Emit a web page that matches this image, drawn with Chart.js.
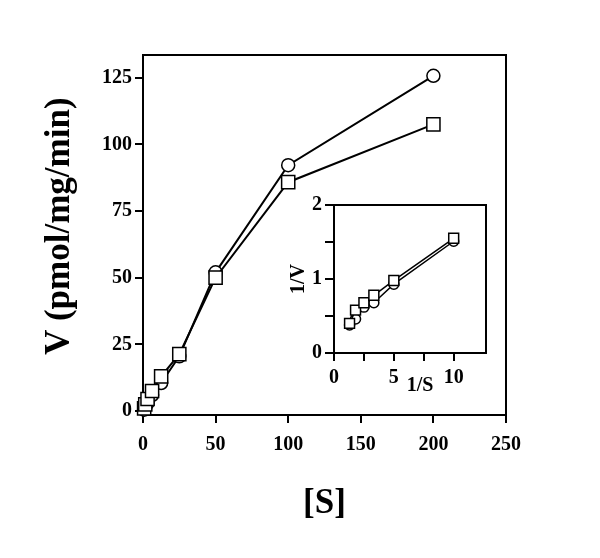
<!DOCTYPE html>
<html>
<head>
<meta charset="utf-8">
<script src="https://cdn.jsdelivr.net/npm/chart.js@4"></script>
<style>
  html, body { margin: 0; padding: 0; background: #fff; }
  #wrap { position: relative; width: 600px; height: 558px; }
  #main { position: absolute; left: 0; top: 0; }
  #inset { position: absolute; left: 270px; top: 190px; }
</style>
</head>
<body>
<div id="wrap">
  <canvas id="main" width="600" height="558"></canvas>
  <canvas id="inset" width="230" height="210"></canvas>
</div>
<script>
// Main plot: V vs [S]
let s_values = [0.78, 1.56, 3.13, 6.25, 12.5, 25, 50, 100, 200];
let v_circles = [0.5, 1.5, 3, 6, 10.5, 20.5, 52, 92.2, 125.7];
let v_squares = [1, 2.5, 4.5, 7.5, 13, 21.3, 50, 85.8, 107.5];
let x_ticks = [0, 50, 100, 150, 200, 250];
let y_ticks = [0, 25, 50, 75, 100, 125];

// Inset: 1/V vs 1/S
let inv_s = [1.3, 1.8, 2.5, 3.33, 5, 10];
let inv_v_circles = [0.38, 0.46, 0.62, 0.68, 0.93, 1.51];
let inv_v_squares = [0.40, 0.58, 0.68, 0.78, 0.98, 1.55];
let inset_x_ticks = [0, 2.5, 5, 7.5, 10];
let inset_y_ticks = [0, 0.5, 1, 1.5, 2];

Chart.defaults.font.family = "'Liberation Serif', 'Times New Roman', serif";
Chart.defaults.font.weight = 'bold';
Chart.defaults.color = '#000';

function toPoints(xs, ys){
  let pts = [];
  for(let i = 0; i < xs.length; i++){
    pts.push({x: xs[i], y: ys[i]});
  }
  return pts;
}

// box around the plot area
const framePlugin = {
  id: 'frame',
  beforeDatasetsDraw(chart){
    const a = chart.chartArea;
    const ctx = chart.ctx;
    ctx.save();
    ctx.strokeStyle = '#000';
    ctx.lineWidth = 2;
    ctx.strokeRect(a.left, a.top, a.right - a.left, a.bottom - a.top);
    ctx.restore();
  }
};

function series(label, data, style, radius, lineWidth){
  return {
    label: label,
    data: data,
    showLine: true,
    borderColor: '#000',
    borderWidth: lineWidth,
    backgroundColor: '#fff',
    pointStyle: style,
    pointRadius: radius,
    pointBorderWidth: 1.5,
    pointBackgroundColor: '#fff',
    pointBorderColor: '#000',
    clip: false
  };
}

function setTicks(list){
  return function(scale){
    scale.ticks = list.map(v => ({value: v}));
  };
}

new Chart(document.getElementById('main'), {
  type: 'scatter',
  data: {
    datasets: [
      series('squares', toPoints(s_values, v_squares), 'rect', 9.3, 2),
      series('circles', toPoints(s_values, v_circles), 'circle', 6.5, 2)
    ]
  },
  options: {
    responsive: false,
    animation: false,
    layout: { padding: { left: 35, top: 55, right: 94, bottom: 33 } },
    plugins: { legend: { display: false }, tooltip: { enabled: false } },
    scales: {
      x: {
        type: 'linear',
        min: 0,
        max: 250,
        afterBuildTicks: setTicks(x_ticks),
        afterFit: function(scale){ scale.height = 110; },
        ticks: { font: { size: 20, weight: 'bold' }, padding: 10, maxRotation: 0 },
        grid: { drawOnChartArea: false, drawTicks: true, tickLength: 8, color: '#000', lineWidth: 2 },
        border: { display: false },
        title: { display: true, text: '[S]', font: { size: 35, weight: 'bold' }, padding: { top: 4, bottom: 0 } }
      },
      y: {
        type: 'linear',
        min: -1.5,
        max: 133.5,
        afterBuildTicks: setTicks(y_ticks),
        afterFit: function(scale){ scale.width = 108; },
        ticks: { font: { size: 20, weight: 'bold' }, padding: 3 },
        grid: { drawOnChartArea: false, drawTicks: true, tickLength: 8, color: '#000', lineWidth: 2 },
        border: { display: false },
        title: { display: true, text: '\u2002V (pmol/mg/min)', font: { size: 35, weight: 'bold' }, padding: { top: 4, bottom: 0 } }
      }
    }
  },
  plugins: [framePlugin]
});

new Chart(document.getElementById('inset'), {
  type: 'scatter',
  data: {
    datasets: [
      series('squares', toPoints(inv_s, inv_v_squares), 'rect', 7, 1.5),
      series('circles', toPoints(inv_s, inv_v_circles), 'circle', 5, 1.5)
    ]
  },
  options: {
    responsive: false,
    animation: false,
    layout: { padding: { left: 13, top: 15, right: 14, bottom: 2 } },
    plugins: { legend: { display: false }, tooltip: { enabled: false } },
    scales: {
      x: {
        type: 'linear',
        min: 0,
        max: 12.7,
        afterBuildTicks: setTicks(inset_x_ticks),
        afterFit: function(scale){ scale.height = 45; },
        ticks: {
          font: { size: 20, weight: 'bold' }, padding: 5, maxRotation: 0, autoSkip: false,
          callback: function(v){ return v % 5 === 0 ? v : ''; }
        },
        grid: { drawOnChartArea: false, drawTicks: true, tickLength: 8, color: '#000', lineWidth: 2 },
        border: { display: false },
        title: { display: true, text: '\u2002\u20021/S', font: { size: 20, weight: 'bold' }, padding: { top: 0, bottom: 0 } }
      },
      y: {
        type: 'linear',
        min: 0,
        max: 2,
        afterBuildTicks: setTicks(inset_y_ticks),
        afterFit: function(scale){ scale.width = 51; },
        ticks: {
          font: { size: 20, weight: 'bold' }, padding: 3, autoSkip: false,
          callback: function(v){ return v % 1 === 0 ? v : ''; }
        },
        grid: { drawOnChartArea: false, drawTicks: true, tickLength: 9, color: '#000', lineWidth: 2 },
        border: { display: false },
        title: { display: true, text: '1/V', font: { size: 20, weight: 'bold' }, padding: { top: 4, bottom: 0 } }
      }
    }
  },
  plugins: [framePlugin]
});
</script>
</body>
</html>
